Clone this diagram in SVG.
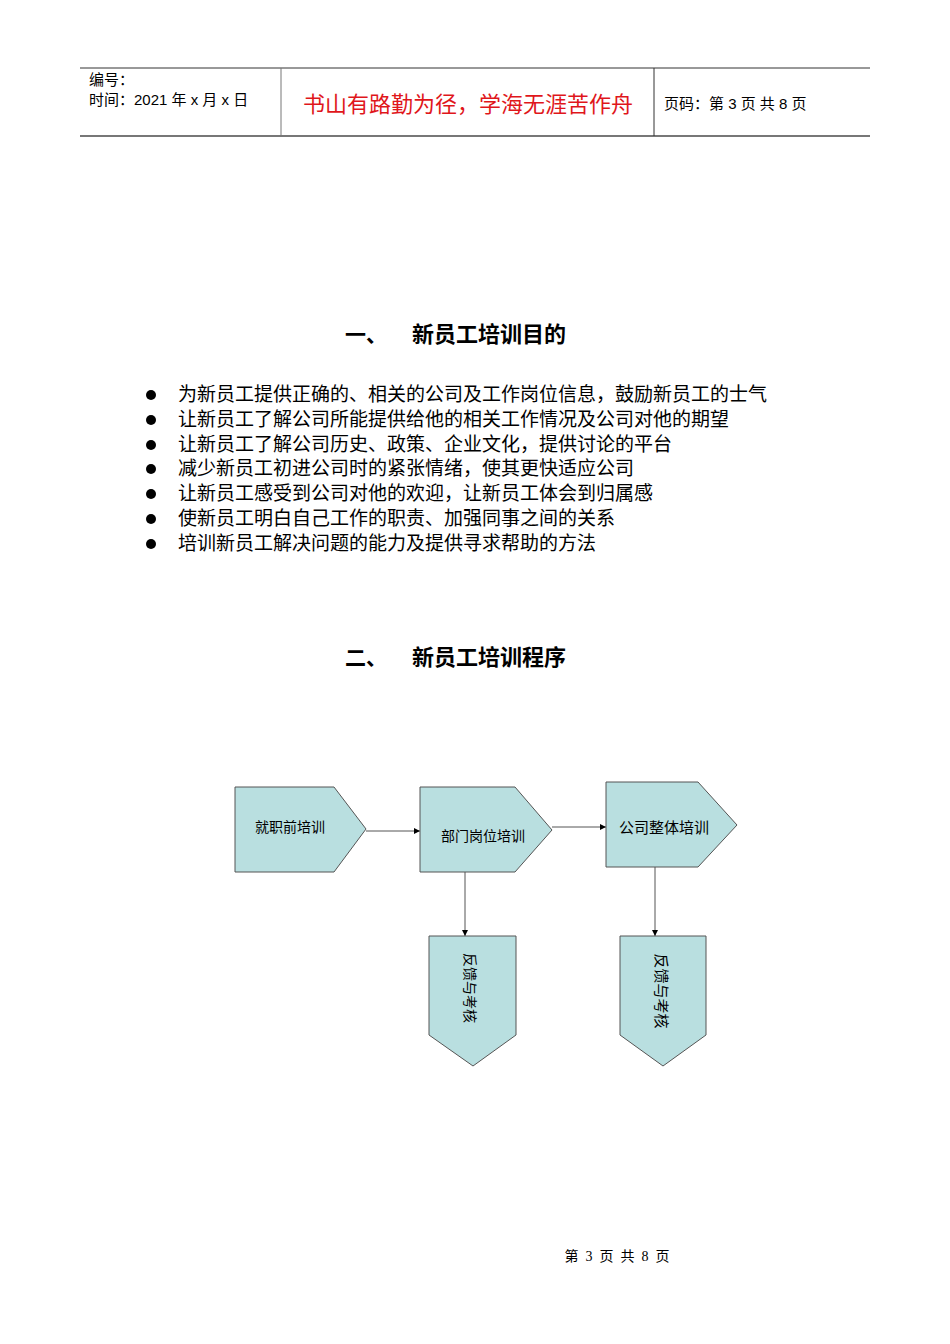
<svg xmlns="http://www.w3.org/2000/svg" width="950" height="1344" viewBox="0 0 950 1344">
<style>
text{font-family:"Liberation Sans","Noto Sans CJK SC",sans-serif;fill:#000}
.s{font-family:"Liberation Serif","Noto Sans CJK SC",serif}
.n{fill:#b9dfe0;stroke:#555;stroke-width:1}
.c{stroke:#555;stroke-width:1;fill:none;marker-end:url(#a)}
</style>
<defs><marker id="a" markerWidth="6" markerHeight="6" refX="6" refY="3" orient="auto" markerUnits="userSpaceOnUse"><path d="M0,0L6,3L0,6z" fill="#000"/></marker></defs>
<rect width="950" height="1344" fill="#fff"/>
<g id="header">
<line x1="80" y1="68" x2="870" y2="68" stroke="#333" stroke-width="1"/>
<line x1="80" y1="136" x2="870" y2="136" stroke="#777" stroke-width="2"/>
<line x1="281" y1="68" x2="281" y2="136" stroke="#777"/>
<line x1="654" y1="68" x2="654" y2="136" stroke="#333"/>
<text x="89" y="85" font-size="15">编号：</text>
<text x="89" y="105" font-size="15">时间：2021 年 x 月 x 日</text>
<text x="468" y="112" font-size="22" style="fill:#e0161b" text-anchor="middle">书山有路勤为径，学海无涯苦作舟</text>
<text x="664" y="109" font-size="15">页码：第 3 页  共 8 页</text>
</g>
<text x="345" y="342" font-size="21" font-weight="bold">一、</text>
<text x="412" y="342" font-size="22" font-weight="bold">新员工培训目的</text>
<g font-size="19">
<circle cx="151" cy="395" r="5"/><text class="s" x="178" y="401">为新员工提供正确的、相关的公司及工作岗位信息，鼓励新员工的士气</text>
<circle cx="151" cy="420" r="5"/><text class="s" x="178" y="426">让新员工了解公司所能提供给他的相关工作情况及公司对他的期望</text>
<circle cx="151" cy="445" r="5"/><text class="s" x="178" y="451">让新员工了解公司历史、政策、企业文化，提供讨论的平台</text>
<circle cx="151" cy="469" r="5"/><text class="s" x="178" y="475">减少新员工初进公司时的紧张情绪，使其更快适应公司</text>
<circle cx="151" cy="494" r="5"/><text class="s" x="178" y="500">让新员工感受到公司对他的欢迎，让新员工体会到归属感</text>
<circle cx="151" cy="519" r="5"/><text class="s" x="178" y="525">使新员工明白自己工作的职责、加强同事之间的关系</text>
<circle cx="151" cy="544" r="5"/><text class="s" x="178" y="550">培训新员工解决问题的能力及提供寻求帮助的方法</text>
</g>
<text x="345" y="665" font-size="21" font-weight="bold">二、</text>
<text x="412" y="665" font-size="22" font-weight="bold">新员工培训程序</text>
<g id="connectors">
<path class="c" d="M366,831H420"/>
<path class="c" d="M552,827H606"/>
<path class="c" d="M465,872V936"/>
<path class="c" d="M655,867V936"/>
</g>
<g id="n1"><path class="n" d="M235,787H334L366,829L334,872H235Z"/><text x="290" y="832" font-size="14" text-anchor="middle">就职前培训</text></g>
<g id="n2"><path class="n" d="M420,787H515L552,830L515,872H420Z"/><text x="483" y="841" font-size="14" text-anchor="middle">部门岗位培训</text></g>
<g id="n3"><path class="n" d="M606,782H698L737,825L698,867H606Z"/><text x="664" y="833" font-size="15" text-anchor="middle">公司整体培训</text></g>
<g id="n4"><path class="n" d="M429,936H516V1035L473,1066L429,1035Z"/><text transform="translate(465,988) rotate(90)" font-size="14" text-anchor="middle">反馈与考核</text></g>
<g id="n5"><path class="n" d="M620,936H706V1035L663,1066L620,1035Z"/><text transform="translate(656,991) rotate(90)" font-size="15" text-anchor="middle">反馈与考核</text></g>
<text class="s" x="617" y="1261" font-size="14" text-anchor="middle" xml:space="preserve">第  3  页  共  8  页</text>
</svg>
